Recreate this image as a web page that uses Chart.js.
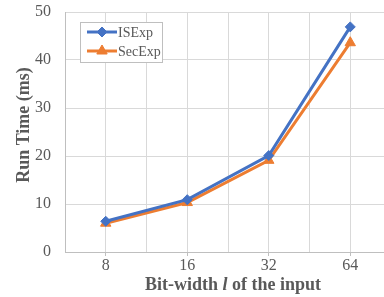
<!DOCTYPE html>
<html>
<head>
<meta charset="utf-8">
<script src="https://cdn.jsdelivr.net/npm/chart.js@4/dist/chart.umd.min.js"></script>
<style>
html,body{margin:0;padding:0;background:#fff;overflow:hidden;}
canvas{display:block;}
</style>
</head>
<body>
<canvas id="c" width="398" height="297" style="width:398px;height:297px"></canvas>
<script>
const categories = ['8', '16', '32', '64'];
const isExp = [6.4, 10.9, 20.1, 46.9];
const secExp = [6.0, 10.3, 19.1, 43.6];
const seriesNames = ['ISExp', 'SecExp'];
const yTicks = [0, 10, 20, 30, 40, 50];
const yTitle = 'Run Time (ms)';
const xTitleParts = ['Bit-width ', 'l', ' of the input'];

const BLUE = '#4472C4', ORANGE = '#ED7D31', TXT = '#595959';
const SERIF = "'Liberation Serif', 'Times New Roman', serif";

function pts(arr){ return arr.map((v,i)=>({x:i+1, y:v})); }

const overlay = {
  id: 'overlay',
  afterDatasetsDraw(chart){
    const ctx = chart.ctx;
    ctx.save();
    const lx = 80, ly = 22, lw = 82, lh = 40;
    ctx.fillStyle = '#fff';
    ctx.fillRect(lx, ly, lw, lh);
    ctx.strokeStyle = '#bfbfbf';
    ctx.lineWidth = 1;
    ctx.strokeRect(lx + 0.5, ly + 0.5, lw, lh);
    chart.data.datasets.forEach((ds, i) => {
      const y = 32 + i * 19;
      ctx.strokeStyle = ds.borderColor;
      ctx.lineWidth = 3;
      ctx.beginPath(); ctx.moveTo(87, y); ctx.lineTo(117, y); ctx.stroke();
      ctx.fillStyle = ds.backgroundColor;
      ctx.strokeStyle = ds.borderColor;
      ctx.lineWidth = 1;
      Chart.helpers.drawPoint(ctx, {pointStyle: ds.pointStyle, radius: ds.pointRadius, rotation: 0, borderWidth: 1}, 102, y);
      ctx.fillStyle = TXT;
      ctx.font = '14px ' + SERIF;
      ctx.textBaseline = 'middle';
      ctx.textAlign = 'left';
      ctx.fillText(ds.label, 118, y + 1);
    });
    ctx.restore();
  },
  afterDraw(chart){
    const ctx = chart.ctx;
    ctx.save();
    ctx.fillStyle = TXT;
    ctx.textBaseline = 'middle';
    const fonts = ['bold 18px ' + SERIF, 'italic bold 18px ' + SERIF, 'bold 18px ' + SERIF];
    let widths = xTitleParts.map((t, i) => { ctx.font = fonts[i]; return ctx.measureText(t).width; });
    const total = widths.reduce((a,b)=>a+b, 0);
    let x = 233 - total / 2;
    ctx.textAlign = 'left';
    xTitleParts.forEach((t, i) => { ctx.font = fonts[i]; ctx.fillText(t, x, 285); x += widths[i]; });
    ctx.translate(24, 125);
    ctx.rotate(-Math.PI / 2);
    ctx.font = 'bold 18px ' + SERIF;
    ctx.textAlign = 'center';
    ctx.fillText(yTitle, 0, 0);
    ctx.restore();
  }
};

new Chart(document.getElementById('c'), {
  type: 'line',
  data: {
    datasets: [
      {label: seriesNames[0], data: pts(isExp), borderColor: BLUE, backgroundColor: BLUE,
       borderWidth: 3, pointStyle: 'rectRot', pointRadius: 5, pointBorderWidth: 1, tension: 0},
      {label: seriesNames[1], data: pts(secExp), borderColor: ORANGE, backgroundColor: ORANGE,
       borderWidth: 3, pointStyle: 'triangle', pointRadius: 6, pointBorderWidth: 1, tension: 0}
    ]
  },
  options: {
    responsive: false,
    maintainAspectRatio: false,
    animation: false,
    devicePixelRatio: 1,
    layout: {padding: {top: 12, right: 3, left: 0, bottom: 0}},
    plugins: {legend: {display: false}, tooltip: {enabled: false}},
    scales: {
      x: {
        type: 'linear', min: 0.5, max: 4.5,
        afterFit(s){ s.height = 45; s.paddingLeft = 0; s.paddingRight = 0; },
        ticks: {
          stepSize: 0.5, autoSkip: false, maxRotation: 0, padding: 0,
          color: TXT, font: {family: SERIF, size: 16},
          callback: v => Number.isInteger(v) ? categories[v - 1] : ''
        },
        grid: {
          color: '#d9d9d9', lineWidth: 1, drawTicks: true, tickLength: 4,
          tickColor: c => (c.tick && Number.isInteger(c.tick.value)) ? '#bfbfbf' : 'rgba(0,0,0,0)'
        },
        border: {color: '#bfbfbf', width: 1}
      },
      y: {
        min: 0, max: 50,
        afterFit(s){ s.width = 65; s.paddingTop = 0; s.paddingBottom = 0; },
        afterBuildTicks(s){ s.ticks = yTicks.map(v => ({value: v})); },
        ticks: {padding: 14, color: TXT, font: {family: SERIF, size: 16}},
        grid: {color: '#d9d9d9', lineWidth: 1, drawTicks: false},
        border: {color: '#bfbfbf', width: 1}
      }
    }
  },
  plugins: [overlay]
});
</script>
</body>
</html>
